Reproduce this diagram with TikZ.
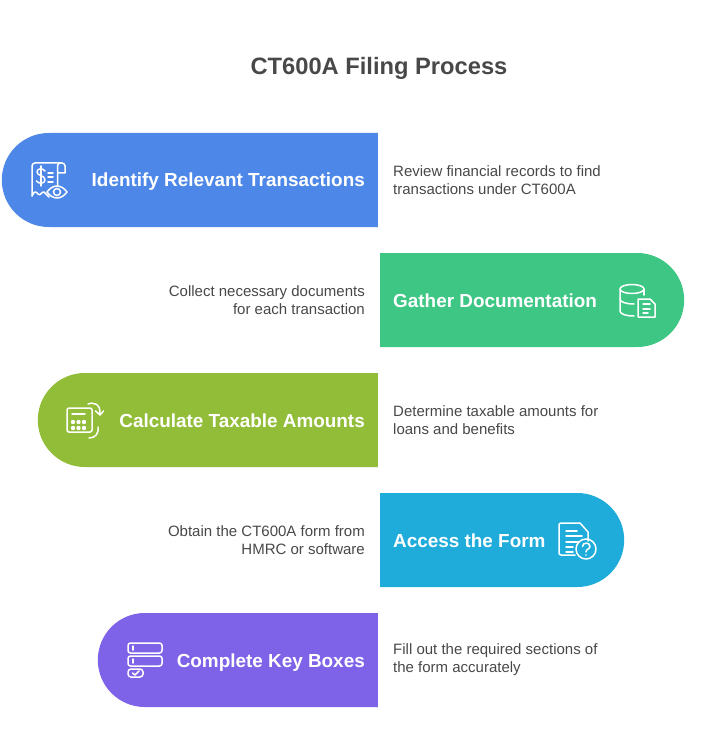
\documentclass[tikz,border=0pt]{standalone}
\usepackage{fontspec}
\setmainfont{Liberation Sans}
\usetikzlibrary{shapes.misc}
\definecolor{pillblue}{HTML}{4D87E8}
\definecolor{pillgreen}{HTML}{3EC685}
\definecolor{pillolive}{HTML}{92BD39}
\definecolor{pillcyan}{HTML}{1FACDB}
\definecolor{pillpurple}{HTML}{7E62E8}
\definecolor{inktext}{HTML}{484848}

\begin{document}
\begin{tikzpicture}[
    x=1pt, y=-1pt,
    leftpill/.style={rounded rectangle, rounded rectangle east arc=none, inner sep=0pt, minimum height=94pt, anchor=east},
    rightpill/.style={rounded rectangle, rounded rectangle west arc=none, inner sep=0pt, minimum height=94pt, anchor=west},
    steptitle/.style={text=white, inner sep=0pt, font=\fontsize{18.9}{24}\selectfont\bfseries},
    stepnote/.style={text=inktext, inner sep=0pt, font=\fontsize{15}{18}\selectfont},
    icon/.style={draw=white, line width=1.5pt, line cap=round, line join=round}
]
\useasboundingbox (0,0) rectangle (715,735);

% Title
\node[text=inktext, inner sep=0pt, anchor=base, font=\fontsize{23.7}{30}\selectfont\bfseries] (title) at (379,75) {CT600A Filing Process};

% Pills
\node[leftpill, fill=pillblue, minimum width=376pt] (identify) at (378,180) {};
\node[rightpill, fill=pillgreen, minimum width=304pt] (gather) at (380,300) {};
\node[leftpill, fill=pillolive, minimum width=340pt] (calculate) at (378,420) {};
\node[rightpill, fill=pillcyan, minimum width=244pt] (access) at (380,540) {};
\node[leftpill, fill=pillpurple, minimum width=280pt] (complete) at (378,660) {};

% Step titles
\node[steptitle, anchor=base east] (identifytext) at (365,187) {Identify Relevant Transactions};
\node[steptitle, anchor=base west] (gathertext) at (393,307) {Gather Documentation};
\node[steptitle, anchor=base east] (calculatetext) at (365,427) {Calculate Taxable Amounts};
\node[steptitle, anchor=base west] (accesstext) at (393,547) {Access the Form};
\node[steptitle, anchor=base east] (completetext) at (365,667) {Complete Key Boxes};

% Notes
\node[stepnote, anchor=west, align=left] (identifynote) at (393,180) {Review financial records to find\\transactions under CT600A};
\node[stepnote, anchor=east, align=right] (gathernote) at (365,300) {Collect necessary documents\\for each transaction};
\node[stepnote, anchor=west, align=left] (calculatenote) at (393,420) {Determine taxable amounts for\\loans and benefits};
\node[stepnote, anchor=east, align=right] (accessnote) at (365,540) {Obtain the CT600A form from\\HMRC or software};
\node[stepnote, anchor=west, align=left] (completenote) at (393,660) {Fill out the required sections of\\the form accurately};

% Receipt icon
\draw[icon] (32,196) -- (32,166) arc[start angle=180, end angle=90, radius=3pt] -- (62,163) arc[start angle=90, end angle=0, radius=3pt] -- (65,173) -- (57.5,173);
\draw[icon] (57.5,186) -- (57.5,166) arc[start angle=180, end angle=90, radius=3pt];
\draw[icon] (32,196) .. controls (34,191) and (36,191) .. (38,194) .. controls (40,197) and (42,191) .. (44,192) .. controls (46,193) and (47,196) .. (49,197);
\draw[icon] (45,171) .. controls (43,168) and (37,168) .. (37,172) .. controls (37,176) and (45,175) .. (45,180) .. controls (45,184) and (38,184) .. (36.500,181);
\draw[icon] (41,166) -- (41,186);
\draw[icon] (48,173) -- (53,173) (48,177) -- (53,177) (48,182) -- (53,182);
\draw[icon] (47,192) .. controls (53,184) and (61,184) .. (67,192) .. controls (61,200) and (53,200) .. (47,192) -- cycle;
\draw[icon] (57,192) circle[radius=3.5pt];

% Database icon
\draw[icon] (632,289) ellipse[x radius=12pt, y radius=4.5pt];
\draw[icon] (620,289) -- (620,311) .. controls (620,314) and (626,316) .. (634,316);
\draw[icon] (620,299) .. controls (620,302) and (626,304) .. (634,304);
\draw[icon] (644,289) -- (644,295);
\draw[icon] (638,299) -- (650,299) -- (655,304) -- (655,317) -- (638,317) -- cycle;
\draw[icon] (643,304) -- (650,304) (643,309) -- (650,309) (643,313) -- (648,313);

% Calculator icon
\draw[icon, rounded corners=2pt] (67,408) rectangle (92,432);
\draw[icon] (72,414) -- (85,414);
\foreach \bx in {73,78.5,84} {
    \foreach \by in {422,428} {
        \fill[white] (\bx,\by) circle[radius=2.2pt];
    }
}
\draw[icon] (88,404) .. controls (92,402) and (101,403) .. (100,414);
\draw[icon] (95.500,411) -- (100,415) -- (103.500,411);
\draw[icon] (98,427) .. controls (99,434) and (95,438) .. (89,438);

% Document icon
\draw[icon] (575,555) -- (561,555) arc[start angle=270, end angle=180, radius=2pt] -- (559,525) arc[start angle=180, end angle=90, radius=2pt] -- (580,523) -- (588,532) -- (588,541);
\draw[icon] (566,531) -- (577,531) (566,536) -- (582,536) (566,542) -- (578,542) (566,547) -- (573,547) (566,552) -- (573,552);
\draw[icon] (586,549) circle[radius=10pt];
\draw[icon] (582.500,546.500) .. controls (582.500,542) and (590,542) .. (590,546.500) .. controls (590,549) and (586,549) .. (586,552);
\fill[white] (586,555) circle[radius=0.9pt];

% Boxes icon
\draw[icon, rounded corners=2.5pt] (128,643) rectangle (162,653);
\draw[icon, rounded corners=2.5pt] (128,656) rectangle (162,666);
\draw[icon, rounded corners=3pt] (128,669) rectangle (143,677);
\draw[icon] (133,646) -- (133,650) (133,659) -- (133,663);
\draw[icon] (132.500,673) -- (135,675) -- (139,671);

\end{tikzpicture}
\end{document}
